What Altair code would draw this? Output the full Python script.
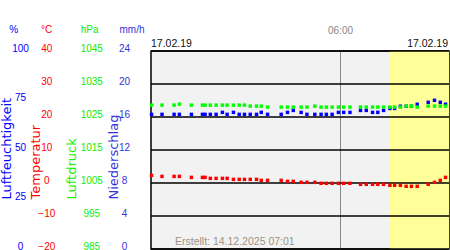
import altair as alt
import pandas as pd

# ---- data ----
minutes = [1, 21, 44, 54, 77, 98, 103, 113, 124, 136, 145, 157, 168, 178, 189,
           201, 210, 222, 248, 260, 271, 286, 297, 312, 324, 334, 345, 357, 367, 379,
           399, 410, 422, 432, 443, 455, 464, 475, 486, 496, 507, 528, 540, 551, 561]
humidity = [68.0, 68.0, 68.0, 68.0, 68.0, 68.0, 68.0, 68.0, 68.0, 69.0, 68.0, 69.0, 68.0, 68.0, 68.0,
            68.0, 69.0, 68.0, 68.0, 69.0, 70.0, 69.0, 68.0, 68.0, 68.0, 68.0, 68.0, 69.0, 69.0, 69.0,
            70.0, 70.0, 69.0, 69.0, 70.0, 71.0, 71.0, 72.1, 72.1, 72.1, 73.1, 74.1, 75.1, 74.1, 73.1]
temperature = [2.3, 2.0, 2.0, 2.0, 1.7, 1.7, 1.7, 1.4, 1.4, 1.4, 1.4, 1.1, 1.1, 1.1, 1.1,
               1.1, 0.8, 0.8, 0.8, 0.5, 0.5, 0.2, 0.2, 0.2, -0.1, -0.1, -0.1, -0.1, -0.1, -0.1,
               -0.4, -0.4, -0.4, -0.4, -0.4, -0.7, -0.7, -0.7, -1.0, -1.0, -1.0, -0.4, 0.2, 0.8, 1.7]
pressure = [1028.6, 1028.6, 1028.6, 1028.9, 1028.6, 1028.6, 1028.6, 1028.6, 1028.6, 1028.6,
            1028.6, 1028.6, 1028.6, 1028.6, 1028.3, 1028.3, 1028.3, 1028.0, 1028.0, 1028.0,
            1028.0, 1028.0, 1028.0, 1028.3, 1028.0, 1028.0, 1028.0, 1028.0, 1028.0, 1028.0,
            1028.0, 1028.0, 1028.0, 1028.0, 1028.0, 1028.0, 1028.0, 1028.0, 1028.3, 1028.3,
            1028.0, 1028.3, 1028.3, 1028.3, 1028.3]
precipitation = [0, 0, 0, 0, 0, 0, 0, 0, 0, 0, 0, 0, 0, 0, 0,
                 0, 0, 0, 0, 0, 0, 0, 0, 0, 0, 0, 0, 0, 0, 0,
                 0, 0, 0, 0, 0, 0, 0, 0, 0, 0, 0, 0, 0, 0, 0]

x_domain = [0, 567.6]
daylight = [455, 567.6]
x_tick_values = [360]
x_tick_labels = ["06:00"]

hum_ticks = [0, 25, 50, 75, 100]
temp_ticks = [-20, -10, 0, 10, 20, 30, 40]
pres_ticks = [985, 995, 1005, 1015, 1025, 1035, 1045]
prec_ticks = [0, 4, 8, 12, 16, 20, 24]

date_label = "17.02.19"
created_label = "Erstellt: 14.12.2025 07:01"

df = pd.DataFrame({
    "minute": minutes,
    "humidity": humidity,
    "temperature": temperature,
    "pressure": pressure,
    "precipitation": precipitation,
})

FONT = "Liberation Sans"
C_HUM = "#0000ff"
C_TEMP = "#ff0000"
C_PRES = "#11ee00"
C_PREC = "#3333dd"

label_expr = " : ".join(
    [f"datum.value == {v} ? '{l}'" for v, l in zip(x_tick_values, x_tick_labels)] + ["''"]
)
x_axis = alt.Axis(orient="top", values=x_tick_values, labelExpr=label_expr, title=None,
                  ticks=False, tickSize=0, domain=False, grid=True, gridColor="#888888",
                  gridWidth=1, labelColor="#888888", labelFont=FONT, labelFontSize=10,
                  labelPadding=21, labelBaseline="middle")
x_scale = alt.Scale(domain=x_domain, nice=False, zero=False, padding=0)


def y_axis(values, color, offset, title, title_x):
    return alt.Axis(orient="left", offset=offset, values=values, format="d", ticks=False,
                    tickSize=0, domain=False, grid=False, labelColor=color, labelAlign="center",
                    labelBaseline="middle", labelOffset=-3, labelPadding=0,
                    labelFont=FONT, labelFontSize=10, labelOverlap=False,
                    title=title, titleColor=color, titleAngle=270, titleAlign="left",
                    titleBaseline="middle", titleX=title_x, titleY=148,
                    titleFont="DejaVu Sans", titleFontSize=13, titleFontWeight="normal")


hum_scale = alt.Scale(domain=[0, 100], nice=False, zero=False)
temp_scale = alt.Scale(domain=[-20, 40], nice=False, zero=False)
pres_scale = alt.Scale(domain=[985, 1045], nice=False, zero=False)
prec_scale = alt.Scale(domain=[0, 24], nice=False, zero=False)

hum_axis = y_axis(hum_ticks, C_HUM, 131, "Luftfeuchtigkeit", -13.8)
temp_axis = y_axis(temp_ticks, C_TEMP, 104.7, "Temperatur", -10.6)
pres_axis = y_axis(pres_ticks, C_PRES, 59.7, "Luftdruck", -19.6)
prec_axis = y_axis(prec_ticks, C_PREC, 27, "Niederschlag", -10.7)

base = alt.Chart(df)

day_rect = alt.Chart(pd.DataFrame({"start": [daylight[0]], "end": [daylight[1]]})).mark_rect(
    color="#ffff99").encode(
    x=alt.X("start:Q", scale=x_scale, axis=x_axis), x2="end:Q")

grid = alt.Chart(pd.DataFrame({"tick": temp_ticks})).mark_rule(
    color="black", strokeWidth=1.5).encode(
    y=alt.Y("tick:Q", scale=temp_scale, axis=temp_axis))

temp_pts = base.mark_square(size=12, color=C_TEMP, opacity=1).encode(
    x=alt.X("minute:Q", scale=x_scale, axis=x_axis),
    y=alt.Y("temperature:Q", scale=temp_scale, axis=temp_axis))

temp_layer = alt.layer(grid, temp_pts)

hum_pts = base.mark_square(size=12, color=C_HUM, opacity=1).encode(
    x=alt.X("minute:Q", scale=x_scale, axis=x_axis),
    y=alt.Y("humidity:Q", scale=hum_scale, axis=hum_axis))

pres_pts = base.mark_square(size=12, color="#00ff00", opacity=1).encode(
    x=alt.X("minute:Q", scale=x_scale, axis=x_axis),
    y=alt.Y("pressure:Q", scale=pres_scale, axis=pres_axis))

prec_bars = base.mark_rule(color=C_PREC, strokeWidth=4).encode(
    x=alt.X("minute:Q", scale=x_scale, axis=x_axis),
    y=alt.Y("precipitation:Q", scale=prec_scale, axis=prec_axis),
    y2=alt.datum(0))


def label(text, x, y, color, align="center", size=10):
    return alt.Chart(pd.DataFrame({"t": [text]})).mark_text(
        font=FONT, fontSize=size, color=color, align=align, baseline="middle").encode(
        text="t:N", x=alt.value(x), y=alt.value(y))


texts = [
    label("%", -137.2, -21, C_HUM),
    label("°C", -104.3, -21, C_TEMP),
    label("hPa", -61.3, -21, C_PRES),
    label("mm/h", -19, -21, C_PREC),
    label(date_label, 0, -7, "#111111", align="left", size=10.5),
    label(date_label, 297, -7, "#111111", align="right", size=10.5),
    label(created_label, 24, 190.7, "#9d9285", align="left", size=10.5),
]

chart = alt.layer(day_rect, temp_layer, hum_pts, pres_pts, prec_bars, *texts).resolve_scale(
    y="independent").properties(
    width=298, height=198,
    autosize=alt.AutoSizeParams(type="none"),
    padding={"left": 151, "top": 51, "right": 1, "bottom": 1},
    background="white",
).configure_view(fill="#f2f2f2", stroke="black", strokeWidth=1.5)

chart.save("out.html", embed_options={"renderer": "svg", "actions": False})
